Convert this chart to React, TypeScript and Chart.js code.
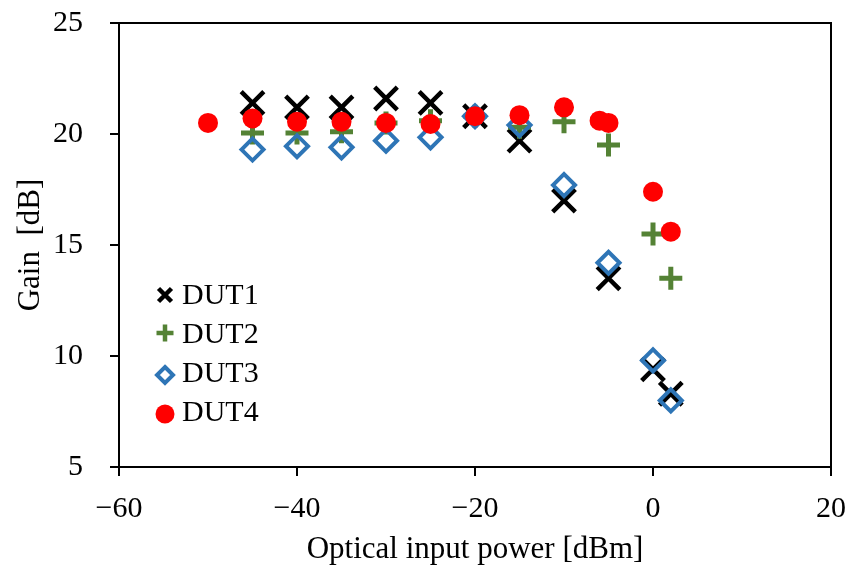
import React, { useEffect, useRef } from "react";
import { Chart, registerables } from "chart.js";

Chart.register(...registerables);

// ---- data ----
const X_DUT1 = [-45, -40, -35, -30, -25, -20, -15, -10, -5, 0, 2];
const Y_DUT1 = [21.4, 21.2, 21.2, 21.6, 21.4, 20.8, 19.7, 17.0, 13.5, 9.4, 8.3];

const X_DUT2 = [-45, -40, -35, -30, -25, -20, -15, -10, -5, 0, 2];
const Y_DUT2 = [20.05, 20.05, 20.1, 20.5, 20.6, 20.8, 20.3, 20.55, 19.5, 15.5, 13.5];

const X_DUT3 = [-45, -40, -35, -30, -25, -20, -15, -10, -5, 0, 2];
const Y_DUT3 = [19.3, 19.45, 19.4, 19.7, 19.85, 20.8, 20.4, 17.7, 14.2, 9.8, 8.0];

const X_DUT4 = [-50, -45, -40, -35, -30, -25, -20, -15, -10, -6, -5, 0, 2];
const Y_DUT4 = [20.5, 20.7, 20.55, 20.55, 20.5, 20.45, 20.8, 20.85, 21.2, 20.6, 20.5, 17.4, 15.6];

const SERIES_NAMES = ["DUT1", "DUT2", "DUT3", "DUT4"];
const X_TITLE = "Optical input power [dBm]";
const Y_TITLE = "Gain  [dB]";
const X_MIN = -60, X_MAX = 20, X_STEP = 20;
const Y_MIN = 5, Y_MAX = 25, Y_STEP = 5;

const COLORS = ["#000000", "#548235", "#2E75B6", "#FF0000"];
const FONT = "'Liberation Serif', 'Times New Roman', serif";

const pts = (xs: number[], ys: number[]) => xs.map((x, i) => ({ x, y: ys[i] }));

const framePlugin = {
  id: "frame",
  beforeDatasetsDraw(chart: any) {
    const { ctx, chartArea } = chart;
    ctx.save();
    ctx.strokeStyle = "#000";
    ctx.lineWidth = 2;
    ctx.strokeRect(chartArea.left, chartArea.top, chartArea.right - chartArea.left, chartArea.bottom - chartArea.top);
    ctx.restore();
  },
};

const legendPlugin = {
  id: "customLegend",
  afterDraw(chart: any) {
    const { ctx } = chart;
    const mx = 165;
    const textX = 182;
    const ys = [295, 333, 375, 414];
    const baselines = [304, 343, 382, 421];
    ctx.save();
    // DUT1 - X
    ctx.strokeStyle = COLORS[0];
    ctx.lineWidth = 4.5;
    ctx.beginPath();
    ctx.moveTo(mx - 6.5, ys[0] - 6.5); ctx.lineTo(mx + 6.5, ys[0] + 6.5);
    ctx.moveTo(mx + 6.5, ys[0] - 6.5); ctx.lineTo(mx - 6.5, ys[0] + 6.5);
    ctx.stroke();
    // DUT2 - plus
    ctx.strokeStyle = COLORS[1];
    ctx.lineWidth = 4.5;
    ctx.beginPath();
    ctx.moveTo(mx - 8.5, ys[1]); ctx.lineTo(mx + 8.5, ys[1]);
    ctx.moveTo(mx, ys[1] - 8.5); ctx.lineTo(mx, ys[1] + 8.5);
    ctx.stroke();
    // DUT3 - diamond
    ctx.strokeStyle = COLORS[2];
    ctx.lineWidth = 4;
    ctx.beginPath();
    ctx.moveTo(mx, ys[2] - 8); ctx.lineTo(mx + 8, ys[2]); ctx.lineTo(mx, ys[2] + 8); ctx.lineTo(mx - 8, ys[2]);
    ctx.closePath();
    ctx.stroke();
    // DUT4 - circle
    ctx.fillStyle = COLORS[3];
    ctx.beginPath();
    ctx.arc(mx, ys[3], 9.5, 0, Math.PI * 2);
    ctx.fill();
    // texts
    ctx.fillStyle = "#000";
    ctx.font = `30px ${FONT}`;
    ctx.textAlign = "left";
    ctx.textBaseline = "alphabetic";
    SERIES_NAMES.forEach((n, i) => ctx.fillText(n, textX, baselines[i]));
    ctx.restore();
  },
};

export default function App() {
  const ref = useRef<HTMLCanvasElement | null>(null);
  useEffect(() => {
    if (!ref.current) return;
    const chart = new Chart(ref.current, {
      type: "scatter",
      data: {
        datasets: [
          {
            label: SERIES_NAMES[0],
            data: pts(X_DUT1, Y_DUT1),
            pointStyle: "crossRot",
            pointRadius: 16,
            pointBorderWidth: 4.5,
            borderColor: COLORS[0],
            backgroundColor: COLORS[0],
            order: 4,
          },
          {
            label: SERIES_NAMES[1],
            data: pts(X_DUT2, Y_DUT2),
            pointStyle: "cross",
            pointRadius: 11.5,
            pointBorderWidth: 5,
            borderColor: COLORS[1],
            backgroundColor: COLORS[1],
            order: 3,
          },
          {
            label: SERIES_NAMES[2],
            data: pts(X_DUT3, Y_DUT3),
            pointStyle: "rectRot",
            pointRadius: 11,
            pointBorderWidth: 4,
            borderColor: COLORS[2],
            backgroundColor: "rgba(0,0,0,0)",
            order: 2,
          },
          {
            label: SERIES_NAMES[3],
            data: pts(X_DUT4, Y_DUT4),
            pointStyle: "circle",
            pointRadius: 10,
            pointBorderWidth: 0,
            borderColor: COLORS[3],
            backgroundColor: COLORS[3],
            order: 1,
          },
        ],
      },
      options: {
        responsive: false,
        animation: false,
        layout: { autoPadding: false, padding: { top: 23, right: 14, left: 0, bottom: 0 } },
        plugins: {
          legend: { display: false },
          tooltip: { enabled: false },
        },
        scales: {
          x: {
            type: "linear",
            min: X_MIN,
            max: X_MAX,
            ticks: {
              stepSize: X_STEP,
              color: "#000",
              font: { family: FONT, size: 30 },
              padding: 15,
              maxRotation: 0,
              callback: (v: any) => (Number(v) < 0 ? "\u2212" + Math.abs(Number(v)) : String(v)),
            },
            grid: { drawOnChartArea: false, drawTicks: true, tickLength: 9, color: "#000", lineWidth: 2 },
            border: { color: "#000", width: 2 },
            title: {
              display: true,
              text: X_TITLE,
              color: "#000",
              font: { family: FONT, size: 31 },
              padding: { top: 0, bottom: -2 },
            },
            afterFit: (s: any) => {
              s.height = 99;
              s.paddingLeft = 0;
              s.paddingRight = 0;
              s.paddingTop = 0;
              s.paddingBottom = 0;
            },
          },
          y: {
            type: "linear",
            min: Y_MIN,
            max: Y_MAX,
            ticks: {
              stepSize: Y_STEP,
              color: "#000",
              font: { family: FONT, size: 30 },
              padding: 27,
            },
            grid: { drawOnChartArea: false, drawTicks: true, tickLength: 9, color: "#000", lineWidth: 2 },
            border: { color: "#000", width: 2 },
            title: {
              display: true,
              text: Y_TITLE,
              color: "#000",
              font: { family: FONT, size: 31 },
              padding: { top: 12, bottom: 0 },
            },
            afterFit: (s: any) => {
              s.width = 119;
              s.paddingLeft = 0;
              s.paddingRight = 0;
              s.paddingTop = 0;
              s.paddingBottom = 0;
            },
          },
        },
      },
      plugins: [framePlugin, legendPlugin],
    });
    return () => chart.destroy();
  }, []);
  return (
    <div style={{ position: "absolute", left: 0, top: 0, width: 845, height: 566, background: "#fff" }}>
      <canvas ref={ref} width={845} height={566} style={{ display: "block" }} />
    </div>
  );
}
